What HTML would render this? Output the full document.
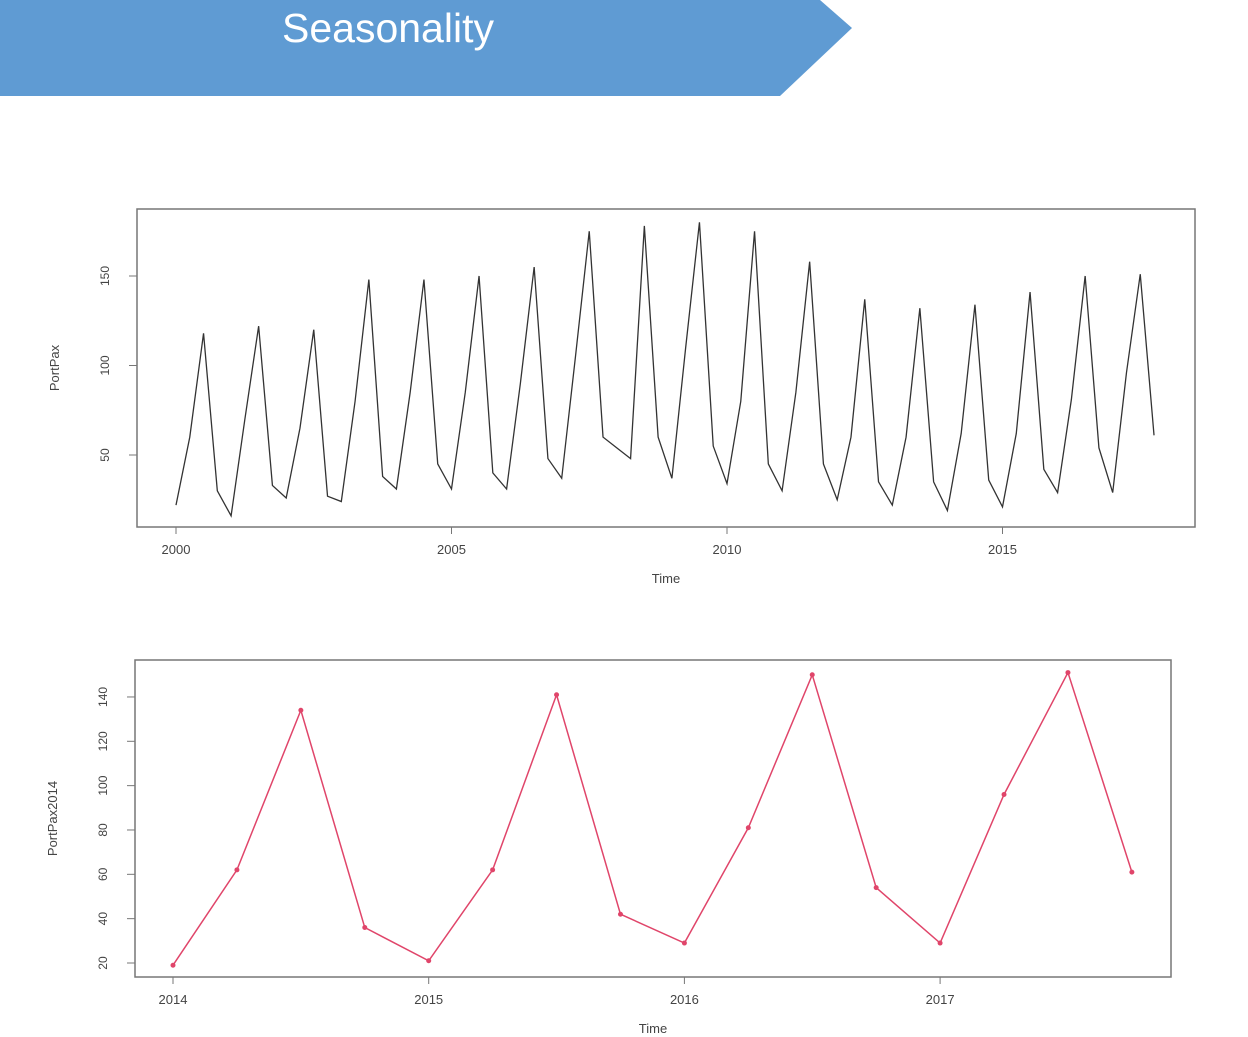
<!DOCTYPE html>
<html><head><meta charset="utf-8">
<style>
body{margin:0;width:1248px;height:1037px;background:#fff;overflow:hidden;font-family:"Liberation Sans",sans-serif;}
svg{position:absolute;left:0;top:0}
</style></head>
<body>
<svg width="1248" height="1037">
  <polygon points="0,0 820,0 852,28 780,96 0,96" fill="#5f9bd3"/>
  <text x="282" y="42" font-size="41" fill="#fff" font-family="Liberation Sans, sans-serif">Seasonality</text>
  <g id="top"></g>
  <g id="bot"></g>
</svg>
<script>
const topYears=[2000,2001,2002,2003,2004,2005,2006,2007,2008,2009,2010,2011,2012,2013,2014,2015,2016,2017];
const topValues=[22,60,118,30, 16,70,122,33, 26,65,120,27, 24,80,148,38, 31,85,148,45, 31,85,150,40, 31,90,155,48, 37,105,175,60, 54,48,178,60, 37,110,180,55, 34,80,175,45, 30,85,158,45, 25,60,137,35, 22,60,132,35, 19,62,134,36, 21,62,141,42, 29,81,150,54, 29,96,151,61];
const topXTicks=[2000,2005,2010,2015];
const topYTicks=[50,100,150];
const botValues=[19,62,134,36, 21,62,141,42, 29,81,150,54, 29,96,151,61];
const botXTicks=[2014,2015,2016,2017];
const botYTicks=[20,40,60,80,100,120,140];
const NS="http://www.w3.org/2000/svg";
function mk(p,t,a){const e=document.createElementNS(NS,t);for(const k in a)e.setAttribute(k,a[k]);p.appendChild(e);return e;}
function chart(g,cfg){
  const sx=v=>cfg.x0+(v-cfg.xa)*cfg.xs, sy=v=>cfg.y0-(v-cfg.ya)*cfg.ys;
  const box=mk(g,'rect',{x:cfg.bx,y:cfg.by,width:cfg.bw,height:cfg.bh,fill:'none',stroke:'#777','stroke-width':1.5});
  
  const by2=cfg.by+cfg.bh;
  cfg.xt.forEach(t=>{const x=sx(t);
    mk(g,'line',{x1:x,x2:x,y1:by2,y2:by2+7,stroke:'#777'});
    const l=mk(g,'text',{x:x,y:by2+27,'font-size':13,'text-anchor':'middle',fill:'#444'});l.textContent=t;
    });
  cfg.yt.forEach(t=>{const y=sy(t);
    mk(g,'line',{x1:cfg.bx,x2:cfg.bx-8,y1:y,y2:y,stroke:'#777'});
    const l=mk(g,'text',{x:cfg.bx-28,y:y,'font-size':12,'text-anchor':'middle',fill:'#444',transform:`rotate(-90 ${cfg.bx-28} ${y})`});l.textContent=t;
    });
  const xl=mk(g,'text',{x:cfg.bx+cfg.bw/2,y:by2+56,'font-size':13,'text-anchor':'middle',fill:'#444'});xl.textContent='Time';
  
  const yx=cfg.bx-78, yy=cfg.by+cfg.bh/2;
  const yl=mk(g,'text',{x:yx,y:yy,'font-size':13,'text-anchor':'middle',fill:'#444',transform:`rotate(-90 ${yx} ${yy})`});yl.textContent=cfg.ylab;
  
  const pts=cfg.vals.map((v,i)=>[sx(cfg.xa+i/4),sy(v)]);
  const pl=mk(g,'polyline',{points:pts.map(p=>p.join(',')).join(' '),fill:'none',stroke:cfg.col,'stroke-width':cfg.sw});
  
  if(cfg.dots)pts.forEach(p=>{const c=mk(g,'circle',{cx:p[0],cy:p[1],r:2.5,fill:cfg.col});
    });
}
chart(document.getElementById('top'),{bx:137,by:209,bw:1058,bh:318,x0:176,xa:topYears[0],xs:55.1,y0:455,ya:50,ys:1.79,xt:topXTicks,yt:topYTicks,vals:topValues,col:'#333',ylab:'PortPax',sw:1.3});
chart(document.getElementById('bot'),{bx:135,by:660,bw:1036,bh:317,x0:173,xa:2014,xs:255.7,y0:963,ya:20,ys:2.217,xt:botXTicks,yt:botYTicks,vals:botValues,col:'#e0456a',ylab:'PortPax2014',dots:true,sw:1.5});
</script>
</body></html>
